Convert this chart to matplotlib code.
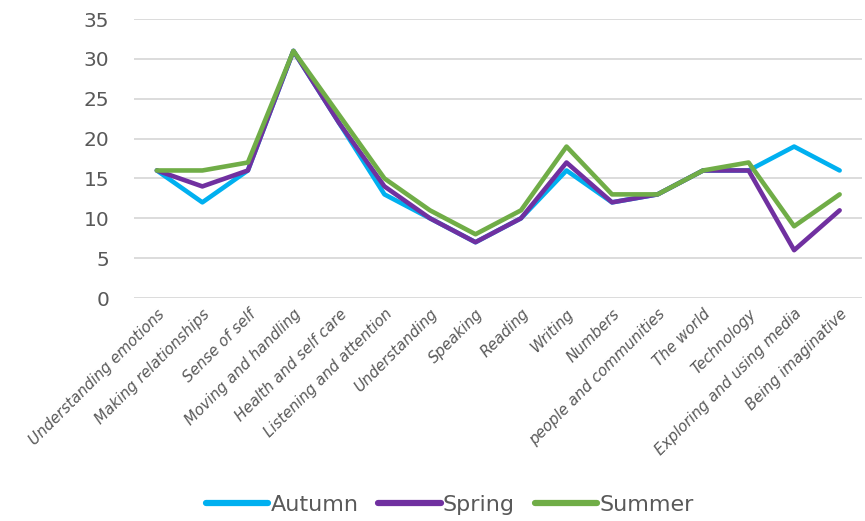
import matplotlib
matplotlib.use("Agg")
import matplotlib.pyplot as plt

categories = ["Understanding emotions", "Making relationships", "Sense of self",
              "Moving and handling", "Health and self care", "Listening and attention",
              "Understanding", "Speaking", "Reading", "Writing", "Numbers",
              "people and communities", "The world", "Technology",
              "Exploring and using media", "Being imaginative"]
autumn = [16, 12, 16, 31, 22, 13, 10, 7, 10, 16, 12, 13, 16, 16, 19, 16]
spring = [16, 14, 16, 31, 22, 14, 10, 7, 10, 17, 12, 13, 16, 16, 6, 11]
summer = [16, 16, 17, 31, 23, 15, 11, 8, 11, 19, 13, 13, 16, 17, 9, 13]
yticks = [0, 5, 10, 15, 20, 25, 30, 35]

plt.rcParams['font.family'] = ['DejaVu Sans']

fig = plt.figure(figsize=(8.65, 5.21), dpi=100)
ax = fig.add_axes([0.155, 0.428, 0.842, 0.5355])

x = list(range(len(categories)))
ax.plot(x, autumn, color="#00B0F0", lw=3.3, label="Autumn", solid_joinstyle="round", solid_capstyle="round", zorder=3)
ax.plot(x, spring, color="#7030A0", lw=3.3, label="Spring", solid_joinstyle="round", solid_capstyle="round", zorder=4)
ax.plot(x, summer, color="#70AD47", lw=3.3, label="Summer", solid_joinstyle="round", solid_capstyle="round", zorder=5)

ax.set_xlim(-0.5, len(categories) - 0.5)
ax.set_ylim(0, 35)
ax.set_yticks(yticks)
ax.set_yticklabels([str(v) for v in yticks], fontsize=14.5, color="#595959")
ax.yaxis.grid(True, color="#d9d9d9", lw=1.3)
ax.set_axisbelow(True)
for s in ax.spines.values():
    s.set_visible(False)
ax.tick_params(axis="both", length=0)
ax.tick_params(axis="y", pad=18)
ax.set_xticks(x)
ax.set_xticklabels(categories, rotation=45, ha="right", rotation_mode="anchor",
                   fontsize=10.8, style="italic", color="#595959")
ax.tick_params(axis="x", pad=6)

handles, labels = ax.get_legend_handles_labels()
leg = fig.legend(handles, labels, loc="center", bbox_to_anchor=(0.52, 0.031), ncol=3, frameon=False,
                 fontsize=16, handlelength=2.8, handletextpad=0.1, columnspacing=0.9)
for t in leg.get_texts():
    t.set_color("#595959")
for h in leg.get_lines():
    h.set_linewidth(4.5)

fig.savefig("out.png", dpi=100)
